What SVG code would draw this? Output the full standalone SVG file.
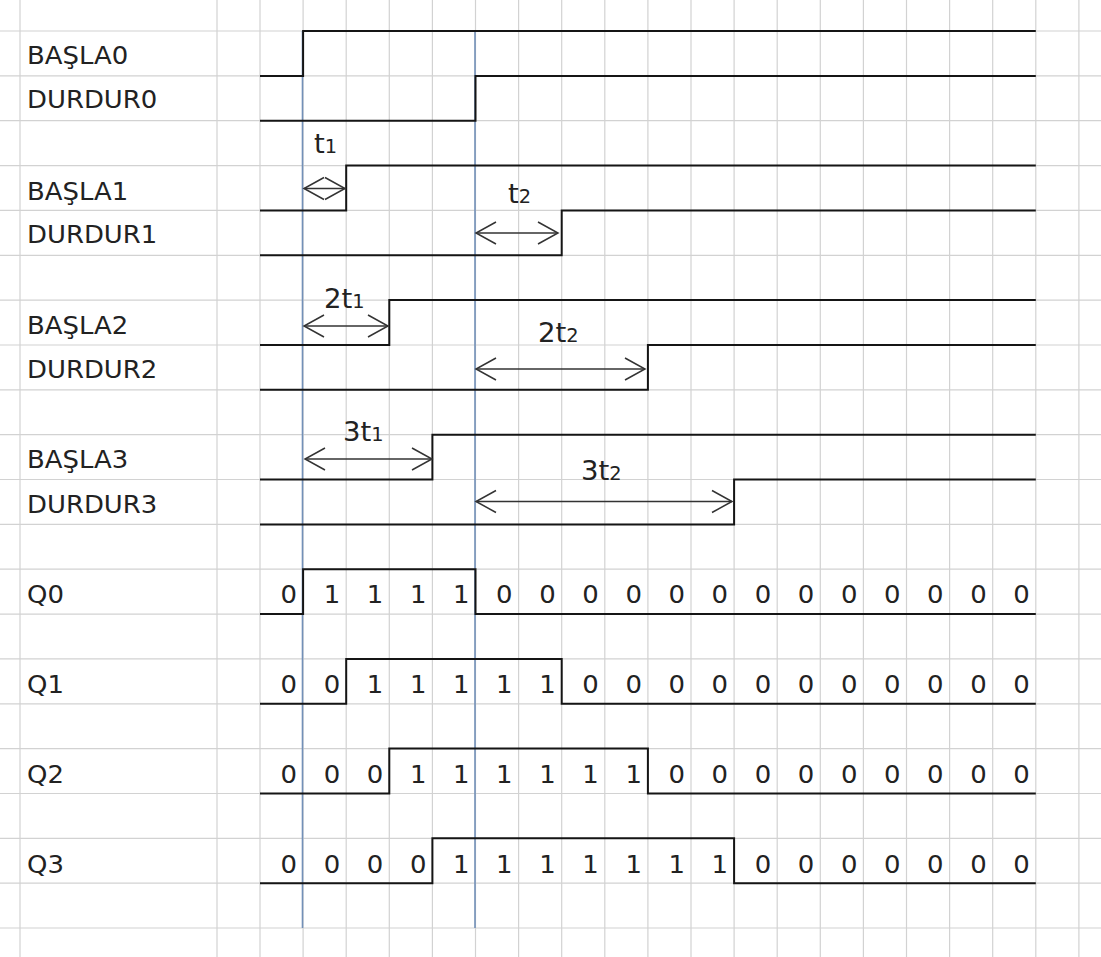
<svg xmlns="http://www.w3.org/2000/svg" width="1101" height="957" viewBox="0 0 1101 957">
<style>
.grid line{stroke:#d2d2d2;stroke-width:1.2}
.blue{stroke:#7290b8;stroke-width:1.6;fill:none}
.sig{fill:none;stroke:#151515;stroke-width:2}
.arr{stroke:#333;stroke-width:1.5;fill:none}
text{font-family:"DejaVu Sans","Open Sans",sans-serif;fill:#222}
.lbl{font-size:24px}
.d{font-size:24px;text-anchor:end}
.big{font-size:27px}
.sub{font-size:19px}
</style>
<defs>
<marker id="ah" markerUnits="userSpaceOnUse" markerWidth="24" markerHeight="26" refX="21" refY="13" orient="auto-start-reverse" overflow="visible">
<path d="M1,2 L21,13 L1,24" fill="none" stroke="#333" stroke-width="1.5"/>
</marker>
</defs>
<rect width="1101" height="957" fill="#ffffff"/>
<g id="grid" class="grid">
<line x1="0" y1="31" x2="1101" y2="31"/>
<line x1="0" y1="75.9" x2="1101" y2="75.9"/>
<line x1="0" y1="120.7" x2="1101" y2="120.7"/>
<line x1="0" y1="165.6" x2="1101" y2="165.6"/>
<line x1="0" y1="210.4" x2="1101" y2="210.4"/>
<line x1="0" y1="255.3" x2="1101" y2="255.3"/>
<line x1="0" y1="300.1" x2="1101" y2="300.1"/>
<line x1="0" y1="345" x2="1101" y2="345"/>
<line x1="0" y1="389.8" x2="1101" y2="389.8"/>
<line x1="0" y1="434.7" x2="1101" y2="434.7"/>
<line x1="0" y1="479.5" x2="1101" y2="479.5"/>
<line x1="0" y1="524.4" x2="1101" y2="524.4"/>
<line x1="0" y1="569.2" x2="1101" y2="569.2"/>
<line x1="0" y1="614.1" x2="1101" y2="614.1"/>
<line x1="0" y1="658.9" x2="1101" y2="658.9"/>
<line x1="0" y1="703.8" x2="1101" y2="703.8"/>
<line x1="0" y1="748.6" x2="1101" y2="748.6"/>
<line x1="0" y1="793.5" x2="1101" y2="793.5"/>
<line x1="0" y1="838.3" x2="1101" y2="838.3"/>
<line x1="0" y1="883.2" x2="1101" y2="883.2"/>
<line x1="0" y1="928" x2="1101" y2="928"/>
<line x1="20" y1="0" x2="20" y2="957"/>
<line x1="217" y1="0" x2="217" y2="957"/>
<line x1="260" y1="0" x2="260" y2="957"/>
<line x1="303.1" y1="0" x2="303.1" y2="957"/>
<line x1="346.2" y1="0" x2="346.2" y2="957"/>
<line x1="389.3" y1="0" x2="389.3" y2="957"/>
<line x1="432.4" y1="0" x2="432.4" y2="957"/>
<line x1="475.5" y1="0" x2="475.5" y2="957"/>
<line x1="518.6" y1="0" x2="518.6" y2="957"/>
<line x1="561.7" y1="0" x2="561.7" y2="957"/>
<line x1="604.8" y1="0" x2="604.8" y2="957"/>
<line x1="647.9" y1="0" x2="647.9" y2="957"/>
<line x1="691" y1="0" x2="691" y2="957"/>
<line x1="734.1" y1="0" x2="734.1" y2="957"/>
<line x1="777.2" y1="0" x2="777.2" y2="957"/>
<line x1="820.3" y1="0" x2="820.3" y2="957"/>
<line x1="863.4" y1="0" x2="863.4" y2="957"/>
<line x1="906.5" y1="0" x2="906.5" y2="957"/>
<line x1="949.6" y1="0" x2="949.6" y2="957"/>
<line x1="992.7" y1="0" x2="992.7" y2="957"/>
<line x1="1035.8" y1="0" x2="1035.8" y2="957"/>
<line x1="1078.9" y1="0" x2="1078.9" y2="957"/>
</g>
<g id="markers-vertical">
<line class="blue" x1="302.5" y1="31" x2="302.5" y2="928"/>
<line class="blue" x1="475" y1="31" x2="475" y2="928"/>
</g>
<g id="labels">
<text class="lbl" transform="translate(27 64) scale(1.08 1)">BAŞLA0</text>
<text class="lbl" transform="translate(27 108) scale(1.08 1)">DURDUR0</text>
<text class="lbl" transform="translate(27 200) scale(1.08 1)">BAŞLA1</text>
<text class="lbl" transform="translate(27 243) scale(1.08 1)">DURDUR1</text>
<text class="lbl" transform="translate(27 334) scale(1.08 1)">BAŞLA2</text>
<text class="lbl" transform="translate(27 378) scale(1.08 1)">DURDUR2</text>
<text class="lbl" transform="translate(27 468) scale(1.08 1)">BAŞLA3</text>
<text class="lbl" transform="translate(27 513) scale(1.08 1)">DURDUR3</text>
<text class="lbl" transform="translate(27 603) scale(1.08 1)">Q0</text>
<text class="lbl" transform="translate(27 693) scale(1.08 1)">Q1</text>
<text class="lbl" transform="translate(27 783) scale(1.08 1)">Q2</text>
<text class="lbl" transform="translate(27 873) scale(1.08 1)">Q3</text>
</g>
<g id="signals">
<path id="sig-basla0" class="sig" d="M260 75.9 H303.1 V31 H1035.8"/>
<path id="sig-durdur0" class="sig" d="M260 120.7 H475.5 V75.9 H1035.8"/>
<path id="sig-basla1" class="sig" d="M260 210.4 H346.2 V165.6 H1035.8"/>
<path id="sig-durdur1" class="sig" d="M260 255.3 H561.7 V210.4 H1035.8"/>
<path id="sig-basla2" class="sig" d="M260 345 H389.3 V300.1 H1035.8"/>
<path id="sig-durdur2" class="sig" d="M260 389.8 H647.9 V345 H1035.8"/>
<path id="sig-basla3" class="sig" d="M260 479.5 H432.4 V434.7 H1035.8"/>
<path id="sig-durdur3" class="sig" d="M260 524.4 H734.1 V479.5 H1035.8"/>
<path id="sig-q0" class="sig" d="M260 614.1 H303.1 V569.2 H475.5 V614.1 H1035.8"/>
<path id="sig-q1" class="sig" d="M260 703.8 H346.2 V658.9 H561.7 V703.8 H1035.8"/>
<path id="sig-q2" class="sig" d="M260 793.5 H389.3 V748.6 H647.9 V793.5 H1035.8"/>
<path id="sig-q3" class="sig" d="M260 883.2 H432.4 V838.3 H734.1 V883.2 H1035.8"/>
</g>
<g id="connectors">
<line class="arr" x1="304" y1="188.5" x2="345" y2="188.5" marker-start="url(#ah)" marker-end="url(#ah)"/>
<line class="arr" x1="476" y1="233" x2="558" y2="233" marker-start="url(#ah)" marker-end="url(#ah)"/>
<line class="arr" x1="304" y1="326" x2="388" y2="326" marker-start="url(#ah)" marker-end="url(#ah)"/>
<line class="arr" x1="476" y1="369" x2="645" y2="369" marker-start="url(#ah)" marker-end="url(#ah)"/>
<line class="arr" x1="305" y1="459" x2="432" y2="459" marker-start="url(#ah)" marker-end="url(#ah)"/>
<line class="arr" x1="476" y1="501.5" x2="732" y2="501.5" marker-start="url(#ah)" marker-end="url(#ah)"/>
</g>
<g id="annotations">
<text transform="translate(314 153) scale(1.02 1)"><tspan class="big">t</tspan><tspan class="sub">1</tspan></text>
<text transform="translate(508 203) scale(1.02 1)"><tspan class="big">t</tspan><tspan class="sub">2</tspan></text>
<text transform="translate(324 308) scale(1.02 1)"><tspan class="big">2t</tspan><tspan class="sub">1</tspan></text>
<text transform="translate(538 342) scale(1.02 1)"><tspan class="big">2t</tspan><tspan class="sub">2</tspan></text>
<text transform="translate(343 441) scale(1.02 1)"><tspan class="big">3t</tspan><tspan class="sub">1</tspan></text>
<text transform="translate(581 480) scale(1.02 1)"><tspan class="big">3t</tspan><tspan class="sub">2</tspan></text>
</g>
<g id="q0-values">
<text class="d" transform="translate(297.1 603) scale(1.08 1)">0</text>
<text class="d" transform="translate(340.2 603) scale(1.08 1)">1</text>
<text class="d" transform="translate(383.3 603) scale(1.08 1)">1</text>
<text class="d" transform="translate(426.4 603) scale(1.08 1)">1</text>
<text class="d" transform="translate(469.5 603) scale(1.08 1)">1</text>
<text class="d" transform="translate(512.6 603) scale(1.08 1)">0</text>
<text class="d" transform="translate(555.7 603) scale(1.08 1)">0</text>
<text class="d" transform="translate(598.8 603) scale(1.08 1)">0</text>
<text class="d" transform="translate(641.9 603) scale(1.08 1)">0</text>
<text class="d" transform="translate(685 603) scale(1.08 1)">0</text>
<text class="d" transform="translate(728.1 603) scale(1.08 1)">0</text>
<text class="d" transform="translate(771.2 603) scale(1.08 1)">0</text>
<text class="d" transform="translate(814.3 603) scale(1.08 1)">0</text>
<text class="d" transform="translate(857.4 603) scale(1.08 1)">0</text>
<text class="d" transform="translate(900.5 603) scale(1.08 1)">0</text>
<text class="d" transform="translate(943.6 603) scale(1.08 1)">0</text>
<text class="d" transform="translate(986.7 603) scale(1.08 1)">0</text>
<text class="d" transform="translate(1029.8 603) scale(1.08 1)">0</text>
</g>
<g id="q1-values">
<text class="d" transform="translate(297.1 693) scale(1.08 1)">0</text>
<text class="d" transform="translate(340.2 693) scale(1.08 1)">0</text>
<text class="d" transform="translate(383.3 693) scale(1.08 1)">1</text>
<text class="d" transform="translate(426.4 693) scale(1.08 1)">1</text>
<text class="d" transform="translate(469.5 693) scale(1.08 1)">1</text>
<text class="d" transform="translate(512.6 693) scale(1.08 1)">1</text>
<text class="d" transform="translate(555.7 693) scale(1.08 1)">1</text>
<text class="d" transform="translate(598.8 693) scale(1.08 1)">0</text>
<text class="d" transform="translate(641.9 693) scale(1.08 1)">0</text>
<text class="d" transform="translate(685 693) scale(1.08 1)">0</text>
<text class="d" transform="translate(728.1 693) scale(1.08 1)">0</text>
<text class="d" transform="translate(771.2 693) scale(1.08 1)">0</text>
<text class="d" transform="translate(814.3 693) scale(1.08 1)">0</text>
<text class="d" transform="translate(857.4 693) scale(1.08 1)">0</text>
<text class="d" transform="translate(900.5 693) scale(1.08 1)">0</text>
<text class="d" transform="translate(943.6 693) scale(1.08 1)">0</text>
<text class="d" transform="translate(986.7 693) scale(1.08 1)">0</text>
<text class="d" transform="translate(1029.8 693) scale(1.08 1)">0</text>
</g>
<g id="q2-values">
<text class="d" transform="translate(297.1 783) scale(1.08 1)">0</text>
<text class="d" transform="translate(340.2 783) scale(1.08 1)">0</text>
<text class="d" transform="translate(383.3 783) scale(1.08 1)">0</text>
<text class="d" transform="translate(426.4 783) scale(1.08 1)">1</text>
<text class="d" transform="translate(469.5 783) scale(1.08 1)">1</text>
<text class="d" transform="translate(512.6 783) scale(1.08 1)">1</text>
<text class="d" transform="translate(555.7 783) scale(1.08 1)">1</text>
<text class="d" transform="translate(598.8 783) scale(1.08 1)">1</text>
<text class="d" transform="translate(641.9 783) scale(1.08 1)">1</text>
<text class="d" transform="translate(685 783) scale(1.08 1)">0</text>
<text class="d" transform="translate(728.1 783) scale(1.08 1)">0</text>
<text class="d" transform="translate(771.2 783) scale(1.08 1)">0</text>
<text class="d" transform="translate(814.3 783) scale(1.08 1)">0</text>
<text class="d" transform="translate(857.4 783) scale(1.08 1)">0</text>
<text class="d" transform="translate(900.5 783) scale(1.08 1)">0</text>
<text class="d" transform="translate(943.6 783) scale(1.08 1)">0</text>
<text class="d" transform="translate(986.7 783) scale(1.08 1)">0</text>
<text class="d" transform="translate(1029.8 783) scale(1.08 1)">0</text>
</g>
<g id="q3-values">
<text class="d" transform="translate(297.1 873) scale(1.08 1)">0</text>
<text class="d" transform="translate(340.2 873) scale(1.08 1)">0</text>
<text class="d" transform="translate(383.3 873) scale(1.08 1)">0</text>
<text class="d" transform="translate(426.4 873) scale(1.08 1)">0</text>
<text class="d" transform="translate(469.5 873) scale(1.08 1)">1</text>
<text class="d" transform="translate(512.6 873) scale(1.08 1)">1</text>
<text class="d" transform="translate(555.7 873) scale(1.08 1)">1</text>
<text class="d" transform="translate(598.8 873) scale(1.08 1)">1</text>
<text class="d" transform="translate(641.9 873) scale(1.08 1)">1</text>
<text class="d" transform="translate(685 873) scale(1.08 1)">1</text>
<text class="d" transform="translate(728.1 873) scale(1.08 1)">1</text>
<text class="d" transform="translate(771.2 873) scale(1.08 1)">0</text>
<text class="d" transform="translate(814.3 873) scale(1.08 1)">0</text>
<text class="d" transform="translate(857.4 873) scale(1.08 1)">0</text>
<text class="d" transform="translate(900.5 873) scale(1.08 1)">0</text>
<text class="d" transform="translate(943.6 873) scale(1.08 1)">0</text>
<text class="d" transform="translate(986.7 873) scale(1.08 1)">0</text>
<text class="d" transform="translate(1029.8 873) scale(1.08 1)">0</text>
</g>
</svg>
